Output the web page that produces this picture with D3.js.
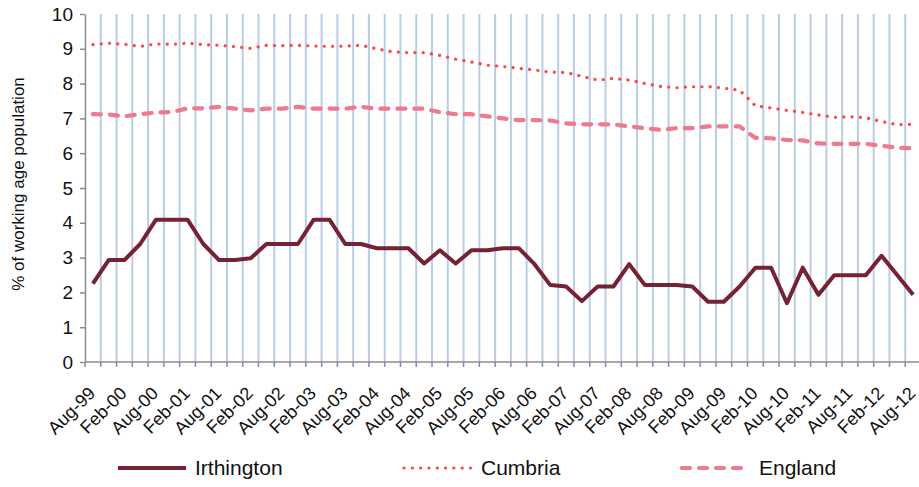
<!DOCTYPE html>
<html>
<head>
<meta charset="utf-8">
<script src="https://cdn.jsdelivr.net/npm/d3@7"></script>
<style>
  body { margin: 0; background: #fff; }
  svg { display: block; font-family: "Liberation Sans", Arial, sans-serif; }
  .grid line { stroke: #b9cde5; stroke-width: 2; }
  .axis path, .axis line { stroke: #8c8c8c; stroke-width: 1.5; }
  .axis text { fill: #111; }
</style>
</head>
<body>
<svg id="chart" width="919" height="487"></svg>
<script>
// quarterly periods, Aug-99 to Aug-12
const quarters = [
  'Aug-99','Nov-99','Feb-00','May-00','Aug-00','Nov-00','Feb-01','May-01',
  'Aug-01','Nov-01','Feb-02','May-02','Aug-02','Nov-02','Feb-03','May-03',
  'Aug-03','Nov-03','Feb-04','May-04','Aug-04','Nov-04','Feb-05','May-05',
  'Aug-05','Nov-05','Feb-06','May-06','Aug-06','Nov-06','Feb-07','May-07',
  'Aug-07','Nov-07','Feb-08','May-08','Aug-08','Nov-08','Feb-09','May-09',
  'Aug-09','Nov-09','Feb-10','May-10','Aug-10','Nov-10','Feb-11','May-11',
  'Aug-11','Nov-11','Feb-12','May-12','Aug-12'
];

const irthington = [
  2.25, 2.93, 2.93, 3.39, 4.09, 4.09, 4.09, 3.39, 2.93, 2.93,
  2.98, 3.39, 3.39, 3.39, 4.09, 4.09, 3.39, 3.39, 3.27, 3.27,
  3.27, 2.83, 3.21, 2.83, 3.21, 3.21, 3.27, 3.27, 2.81, 2.21,
  2.17, 1.75, 2.17, 2.17, 2.81, 2.21, 2.21, 2.21, 2.17, 1.73,
  1.73, 2.17, 2.71, 2.71, 1.69, 2.71, 1.93, 2.49, 2.49, 2.49,
  3.05, 2.49, 1.93
];

const cumbria = [
  9.12, 9.16, 9.13, 9.07, 9.14, 9.13, 9.16, 9.12, 9.10, 9.06,
  9.01, 9.10, 9.09, 9.10, 9.08, 9.07, 9.08, 9.10, 9.00, 8.91,
  8.89, 8.89, 8.81, 8.70, 8.62, 8.53, 8.49, 8.44, 8.39, 8.33,
  8.32, 8.21, 8.10, 8.15, 8.10, 8.00, 7.92, 7.88, 7.91, 7.91,
  7.87, 7.81, 7.36, 7.30, 7.23, 7.17, 7.10, 7.03, 7.05, 7.02,
  6.91, 6.82, 6.83
];

const england = [
  7.12, 7.11, 7.06, 7.12, 7.17, 7.18, 7.29, 7.29, 7.33, 7.28,
  7.23, 7.28, 7.28, 7.33, 7.28, 7.28, 7.28, 7.33, 7.28, 7.28,
  7.28, 7.28, 7.18, 7.12, 7.12, 7.06, 7.00, 6.95, 6.95, 6.94,
  6.86, 6.83, 6.83, 6.83, 6.77, 6.72, 6.67, 6.72, 6.72, 6.77,
  6.77, 6.77, 6.44, 6.43, 6.38, 6.37, 6.28, 6.27, 6.27, 6.27,
  6.21, 6.16, 6.14
];

const yTicks = [0, 1, 2, 3, 4, 5, 6, 7, 8, 9, 10];

const seriesList = [
  { name: 'Irthington', values: irthington, color: '#772135', width: 4, dash: null, cap: 'butt' },
  { name: 'Cumbria', values: cumbria, color: '#ff4545', width: 3.2, dash: '0.1 8.2', cap: 'round' },
  { name: 'England', values: england, color: '#ee7a8e', width: 4.2, dash: '8 9', cap: 'round' }
];

const svg = d3.select('#chart');
const plotLeft = 85, plotRight = 921, plotTop = 14, plotBottom = 362;

const x = d3.scaleBand().domain(d3.range(quarters.length)).range([plotLeft, plotRight]);
const y = d3.scaleLinear().domain([0, 10]).range([plotBottom, plotTop]);
const cx = i => x(i) + x.bandwidth() / 2;

// vertical gridlines on category boundaries
svg.append('g').attr('class', 'grid')
  .selectAll('line')
  .data(d3.range(1, quarters.length))
  .enter().append('line')
  .attr('x1', d => x(d)).attr('x2', d => x(d))
  .attr('y1', plotTop).attr('y2', plotBottom);

// y axis
const yAxis = svg.append('g').attr('class', 'axis')
  .attr('transform', `translate(${plotLeft},0)`)
  .call(d3.axisLeft(y).tickValues(yTicks).tickSize(5).tickPadding(7).tickSizeOuter(0));
yAxis.selectAll('text').style('font-size', '19px');

// x axis: ticks at boundaries, labels every second quarter
const xAxis = svg.append('g').attr('class', 'axis')
  .attr('transform', `translate(0,${plotBottom})`);
xAxis.append('line').attr('x1', plotLeft).attr('x2', plotRight).attr('y1', 0).attr('y2', 0);
xAxis.selectAll('line.tick')
  .data(d3.range(0, quarters.length))
  .enter().append('line').attr('class', 'tick')
  .attr('x1', d => x(d)).attr('x2', d => x(d))
  .attr('y1', 0).attr('y2', 5);
xAxis.selectAll('text')
  .data(quarters.map((q, i) => ({ q, i })).filter(d => d.i % 2 === 0))
  .enter().append('text')
  .attr('transform', d => `translate(${cx(d.i) - 1},${28}) rotate(-45)`)
  .attr('text-anchor', 'end')
  .attr('dy', '0.35em')
  .style('font-size', '18px')
  .text(d => d.q);

// y axis title
svg.append('text')
  .attr('transform', 'translate(18,184) rotate(-90)')
  .attr('text-anchor', 'middle')
  .attr('dy', '0.35em')
  .style('font-size', '17px')
  .style('fill', '#111')
  .text('% of working age population');

// lines
const line = d3.line().x((d, i) => cx(i)).y(d => y(d));
svg.append('g').selectAll('path')
  .data(seriesList)
  .enter().append('path')
  .attr('d', d => line(d.values))
  .attr('fill', 'none')
  .attr('stroke', d => d.color)
  .attr('stroke-width', d => d.width)
  .attr('stroke-dasharray', d => d.dash)
  .attr('stroke-linecap', d => d.cap)
  .attr('stroke-linejoin', 'round');

// legend
const legendX = [118, 404, 682];
const legend = svg.append('g').selectAll('g')
  .data(seriesList)
  .enter().append('g')
  .attr('transform', (d, i) => `translate(${legendX[i]},468)`);
legend.append('line')
  .attr('x1', 0).attr('x2', 68).attr('y1', 0).attr('y2', 0)
  .attr('stroke', d => d.color)
  .attr('stroke-width', d => d.width)
  .attr('stroke-dasharray', d => d.dash)
  .attr('stroke-linecap', d => d.cap);
legend.append('text')
  .attr('x', 77)
  .attr('dy', '0.35em')
  .style('font-size', '21px')
  .style('fill', '#111')
  .text(d => d.name);
</script>
</body>
</html>
